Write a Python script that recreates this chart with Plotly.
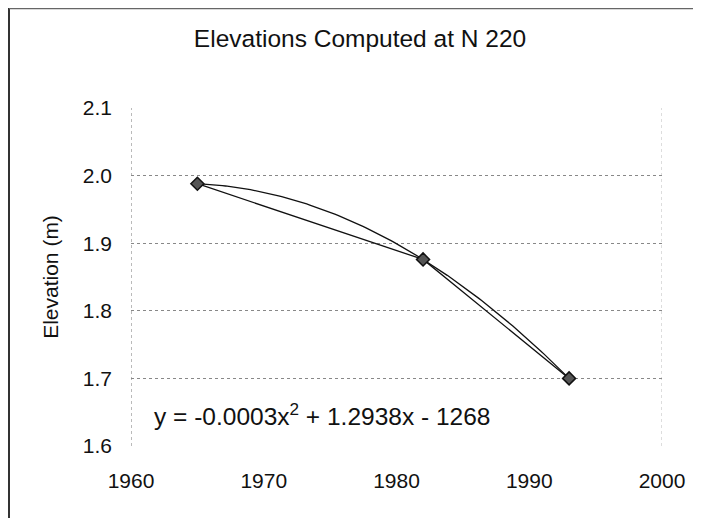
import numpy as np
import plotly.graph_objects as go

# data
years = [1965, 1982, 1993]
elevation = [1.988, 1.876, 1.700]

x_ticks = [1960, 1970, 1980, 1990, 2000]
y_ticks = [1.6, 1.7, 1.8, 1.9, 2.0, 2.1]
equation = "y = -0.0003x<sup>2</sup> + 1.2938x - 1268"

# 2nd order polynomial trendline through the points, like the spreadsheet does
coef = np.polyfit(years, elevation, 2)
trend_x = np.linspace(years[0], years[-1], 120)
trend_y = np.polyval(coef, trend_x)

FONT = "Liberation Sans, Arial, sans-serif"

fig = go.Figure()
fig.add_trace(go.Scatter(
    x=trend_x, y=trend_y, mode="lines",
    line=dict(color="#111111", width=1.3), hoverinfo="skip"
))
fig.add_trace(go.Scatter(
    x=years, y=elevation, mode="lines+markers",
    line=dict(color="#111111", width=1.3),
    marker=dict(symbol="diamond", size=10, color="#555555",
                line=dict(color="#111111", width=1.5))
))

# dotted axis line at the left and faint border at the right
for xv, col in [(1960, "#777777"), (2000, "#bbbbbb")]:
    fig.add_shape(type="line", x0=xv, x1=xv, y0=1.6, y1=2.1, xref="x", yref="y",
                  line=dict(color=col, width=1, dash="dot"), layer="below")

# page has an 8px body margin, so the figure is a bit smaller
W, H = 693, 510
L, T = 123, 100
pw, ph = 531, 338
R, B = W - L - pw, H - T - ph

# outer chart frame (left and top edges visible)
fig.add_shape(type="line", xref="paper", yref="paper",
              x0=(1 - L) / pw, x1=(1 - L) / pw, y0=(T + ph) / ph, y1=-(B + 10) / ph,
              line=dict(color="#333333", width=2))
fig.add_shape(type="line", xref="paper", yref="paper",
              x0=(1 - L) / pw, x1=(W + 10 - L) / pw, y0=(T + ph - 0.5) / ph, y1=(T + ph - 0.5) / ph,
              line=dict(color="#666666", width=1.5))

fig.add_annotation(x=1961.6, y=1.646, xref="x", yref="y", text=equation,
                   showarrow=False, xanchor="left", yanchor="middle",
                   font=dict(family=FONT, size=24.5, color="#111111"))

fig.update_layout(
    width=W, height=H,
    margin=dict(l=L, r=R, t=T, b=B),
    paper_bgcolor="white", plot_bgcolor="white",
    showlegend=False,
    title=dict(text="Elevations Computed at N 220", x=352 / W, xanchor="center",
               y=1 - 30 / H, yanchor="middle",
               font=dict(family=FONT, size=24.5, color="#111111")),
    font=dict(family=FONT, color="#111111"),
)
fig.update_xaxes(range=[1960, 2000], tickvals=x_ticks, showgrid=False, zeroline=False,
                 showline=False, ticks="", ticklabelstandoff=20,
                 tickfont=dict(size=21))
fig.update_yaxes(range=[1.6, 2.1], tickvals=y_ticks, tickformat=".1f",
                 showgrid=True, gridcolor="#888888", griddash="dot", gridwidth=1,
                 zeroline=False, showline=False, ticks="", ticklabelstandoff=18,
                 tickfont=dict(size=21),
                 title=dict(text="Elevation (m)", standoff=18,
                            font=dict(size=21)))

fig.write_html("out.html")
